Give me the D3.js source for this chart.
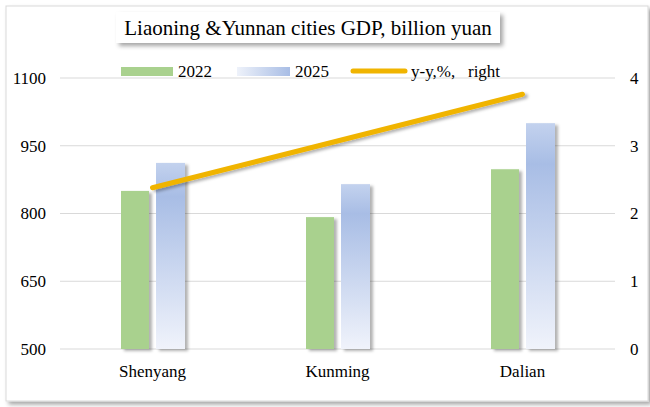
<!DOCTYPE html>
<html>
<head>
<meta charset="utf-8">
<script src="https://cdn.jsdelivr.net/npm/d3@7"></script>
<style>
  body { margin: 0; background: #fff; }
  text { font-family: "Liberation Serif", "Times New Roman", serif; fill: #000; }
</style>
</head>
<body>
<div id="chart"></div>
<script>
const cities = ["Shenyang", "Kunming", "Dalian"];
const gdp2022 = [850, 792, 898];
const gdp2025 = [912, 865, 1000];
const yoy = [2.38, 3.07, 3.76];
const leftTicks = [500, 650, 800, 950, 1100];
const rightTicks = [0, 1, 2, 3, 4];

const width = 650, height = 407;
const margin = { left: 60, right: 35, top: 78, bottom: 58 };
const fontSize = "17px";

const svg = d3.select("#chart").append("svg")
  .attr("width", width)
  .attr("height", height);

const defs = svg.append("defs");

// shadows
const sh = defs.append("filter").attr("id", "shadow")
  .attr("x", "-20%").attr("y", "-20%").attr("width", "150%").attr("height", "150%");
sh.append("feDropShadow").attr("dx", 3).attr("dy", 3).attr("stdDeviation", 2)
  .attr("flood-color", "#000").attr("flood-opacity", 0.35);

const barSh = defs.append("filter").attr("id", "barShadow")
  .attr("x", "-30%").attr("y", "-10%").attr("width", "170%").attr("height", "130%");
barSh.append("feDropShadow").attr("dx", 3).attr("dy", 2).attr("stdDeviation", 1.5)
  .attr("flood-color", "#000").attr("flood-opacity", 0.3);

const grad = defs.append("linearGradient").attr("id", "blueGrad")
  .attr("x1", 0).attr("y1", 0).attr("x2", 0).attr("y2", 1);
grad.append("stop").attr("offset", "0%").attr("stop-color", "#c3d2ee");
grad.append("stop").attr("offset", "18%").attr("stop-color", "#a8bde5");
grad.append("stop").attr("offset", "100%").attr("stop-color", "#f0f3fb");

const legGrad = defs.append("linearGradient").attr("id", "legGrad")
  .attr("x1", 0).attr("y1", 0).attr("x2", 1).attr("y2", 0);
legGrad.append("stop").attr("offset", "0%").attr("stop-color", "#eef2fa");
legGrad.append("stop").attr("offset", "100%").attr("stop-color", "#a8bde5");

// outer frame
svg.append("rect")
  .attr("x", 6).attr("y", 6).attr("width", 642).attr("height", 395)
  .attr("fill", "#fff").attr("stroke", "#d9d9d9")
  .attr("filter", "url(#shadow)");

const x = d3.scaleBand()
  .domain(cities)
  .range([margin.left, width - margin.right]);

const y = d3.scaleLinear()
  .domain([500, 1100])
  .range([height - margin.bottom, margin.top]);

const y2 = d3.scaleLinear()
  .domain([0, 4])
  .range([height - margin.bottom, margin.top]);

// grid
svg.append("g")
  .selectAll("line")
  .data(leftTicks)
  .join("line")
  .attr("x1", margin.left).attr("x2", width - margin.right)
  .attr("y1", d => y(d)).attr("y2", d => y(d))
  .attr("stroke", "#d9d9d9").attr("stroke-width", 1);

// left axis
const yAxis = svg.append("g")
  .attr("transform", `translate(${margin.left - 14},0)`)
  .call(d3.axisLeft(y).tickValues(leftTicks).tickFormat(d3.format("d")).tickSize(0).tickPadding(0));
yAxis.select(".domain").remove();
yAxis.selectAll("text").style("font-size", fontSize);

// right axis
const y2Axis = svg.append("g")
  .attr("transform", `translate(${width - margin.right + 15},0)`)
  .call(d3.axisRight(y2).tickValues(rightTicks).tickFormat(d3.format("d")).tickSize(0).tickPadding(0));
y2Axis.select(".domain").remove();
y2Axis.selectAll("text").style("font-size", fontSize);

// bottom axis
const xAxis = svg.append("g")
  .attr("transform", `translate(0,${height - margin.bottom + 16})`)
  .call(d3.axisBottom(x).tickSize(0).tickPadding(0));
xAxis.select(".domain").remove();
xAxis.selectAll("text").style("font-size", fontSize)
  .attr("dy", "0.71em");

// bars
const barW = 28, gap = 7;
const bars = svg.append("g");
bars.selectAll("rect.g22")
  .data(cities)
  .join("rect")
  .attr("class", "g22")
  .attr("x", d => x(d) + x.bandwidth() / 2 - gap / 2 - barW)
  .attr("y", (d, i) => y(gdp2022[i]))
  .attr("width", barW)
  .attr("height", (d, i) => y(500) - y(gdp2022[i]))
  .attr("fill", "#a9d18e")
  .attr("filter", "url(#barShadow)");

bars.selectAll("rect.g25")
  .data(cities)
  .join("rect")
  .attr("class", "g25")
  .attr("x", d => x(d) + x.bandwidth() / 2 + gap / 2)
  .attr("y", (d, i) => y(gdp2025[i]))
  .attr("width", barW + 1)
  .attr("height", (d, i) => y(500) - y(gdp2025[i]))
  .attr("fill", "url(#blueGrad)")
  .attr("filter", "url(#barShadow)");

// line
const line = d3.line()
  .x((d, i) => x(cities[i]) + x.bandwidth() / 2)
  .y(d => y2(d));

svg.append("path")
  .datum(yoy)
  .attr("d", line)
  .attr("fill", "none")
  .attr("stroke", "#f0b400")
  .attr("stroke-width", 5)
  .attr("stroke-linecap", "round")
  .attr("filter", "url(#barShadow)");

// title box
svg.append("rect")
  .attr("x", 116).attr("y", 12).attr("width", 384).attr("height", 31)
  .attr("fill", "#fff")
  .attr("filter", "url(#shadow)");
svg.append("text")
  .attr("x", 308).attr("y", 35)
  .attr("text-anchor", "middle")
  .style("font-size", "21px")
  .text("Liaoning &Yunnan cities GDP, billion yuan");

// legend
const leg = svg.append("g").style("font-size", fontSize);
leg.append("rect").attr("x", 121).attr("y", 67).attr("width", 52).attr("height", 9).attr("fill", "#a9d18e");
leg.append("text").attr("x", 178).attr("y", 77).text("2022");
leg.append("rect").attr("x", 237).attr("y", 67).attr("width", 53).attr("height", 9).attr("fill", "url(#legGrad)");
leg.append("text").attr("x", 295).attr("y", 77).text("2025");
leg.append("line").attr("x1", 353).attr("x2", 405).attr("y1", 71).attr("y2", 71)
  .attr("stroke", "#f0b400").attr("stroke-width", 5).attr("stroke-linecap", "round");
leg.append("text").attr("x", 411).attr("y", 77).attr("xml:space", "preserve").text("y-y,%,   right");
</script>
</body>
</html>
